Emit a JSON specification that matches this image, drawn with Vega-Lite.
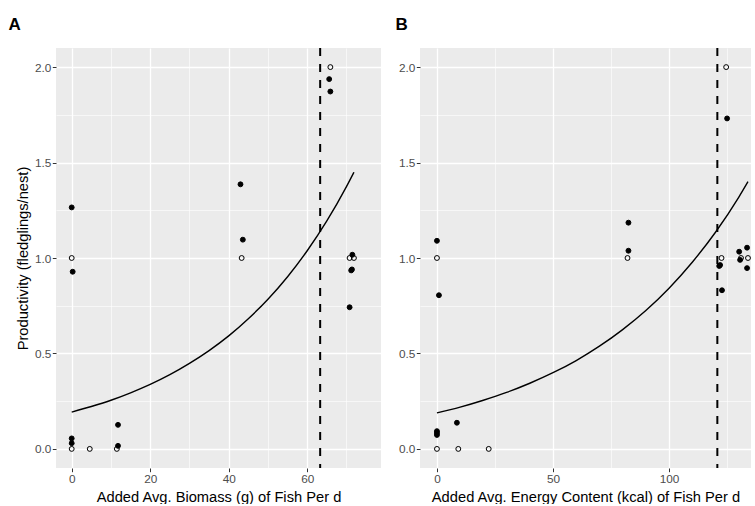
{
  "$schema": "https://vega.github.io/schema/vega-lite/v6.json",
  "padding": {"left": 8, "top": 16, "right": 0, "bottom": 0},
  "background": "white",
  "config": {
    "font": "Liberation Sans",
    "view": {"fill": "#EBEBEB", "stroke": null},
    "axis": {
      "domain": false,
      "gridColor": "white",
      "tickColor": "#333333",
      "tickSize": 3.7,
      "labelColor": "#4D4D4D",
      "labelFontSize": 11.8,
      "labelFont": "Liberation Sans",
      "titleFont": "Liberation Sans",
      "titleFontSize": 14.7,
      "titleFontWeight": "normal",
      "titleColor": "#000000",
      "labelPadding": 1.5,
      "titlePadding": 4
    },
    "title": {"fontSize": 17, "fontWeight": "bold", "anchor": "start", "frame": "bounds", "font": "Liberation Sans", "color": "#000000", "offset": 13}
  },
  "datasets": {
    "pointsA": [
      {"x": 0, "y": 1.0, "type": "open"},
      {"x": 0, "y": 0, "type": "open"},
      {"x": 4.6, "y": 0, "type": "open"},
      {"x": 11.5, "y": 0, "type": "open"},
      {"x": 43.3, "y": 1.0, "type": "open"},
      {"x": 65.9, "y": 2.0, "type": "open"},
      {"x": 70.8, "y": 1.0, "type": "open"},
      {"x": 71.9, "y": 1.0, "type": "open"},
      {"x": 0, "y": 1.265, "type": "filled"},
      {"x": 0.25, "y": 0.928, "type": "filled"},
      {"x": 0, "y": 0.055, "type": "filled"},
      {"x": 0, "y": 0.03, "type": "filled"},
      {"x": 11.8, "y": 0.126, "type": "filled"},
      {"x": 11.8, "y": 0.016, "type": "filled"},
      {"x": 43.0, "y": 1.386, "type": "filled"},
      {"x": 43.6, "y": 1.096, "type": "filled"},
      {"x": 65.6, "y": 1.937, "type": "filled"},
      {"x": 65.9, "y": 1.872, "type": "filled"},
      {"x": 71.5, "y": 1.017, "type": "filled"},
      {"x": 71.4, "y": 0.94, "type": "filled"},
      {"x": 71.2, "y": 0.935, "type": "filled"},
      {"x": 70.8, "y": 0.742, "type": "filled"}
    ],
    "curveA": [
      {"x": 0, "y": 0.193}, {"x": 5, "y": 0.222}, {"x": 10, "y": 0.255},
      {"x": 15, "y": 0.294}, {"x": 20, "y": 0.338}, {"x": 25, "y": 0.389},
      {"x": 30, "y": 0.448}, {"x": 35, "y": 0.515}, {"x": 40, "y": 0.592},
      {"x": 45, "y": 0.682}, {"x": 50, "y": 0.784}, {"x": 55, "y": 0.902},
      {"x": 60, "y": 1.038}, {"x": 65, "y": 1.194}, {"x": 70, "y": 1.374},
      {"x": 71.9, "y": 1.449}
    ],
    "vlineA": [{"x": 63.3}],
    "pointsB": [
      {"x": 0, "y": 1.0, "type": "open"},
      {"x": 0, "y": 0, "type": "open"},
      {"x": 9.2, "y": 0, "type": "open"},
      {"x": 22.3, "y": 0, "type": "open"},
      {"x": 82.1, "y": 1.0, "type": "open"},
      {"x": 124.6, "y": 2.0, "type": "open"},
      {"x": 122.6, "y": 1.0, "type": "open"},
      {"x": 131.0, "y": 1.0, "type": "open"},
      {"x": 134.0, "y": 1.0, "type": "open"},
      {"x": 0, "y": 1.09, "type": "filled"},
      {"x": 0.86, "y": 0.805, "type": "filled"},
      {"x": 0, "y": 0.093, "type": "filled"},
      {"x": 0, "y": 0.083, "type": "filled"},
      {"x": 0, "y": 0.073, "type": "filled"},
      {"x": 8.6, "y": 0.137, "type": "filled"},
      {"x": 82.5, "y": 1.185, "type": "filled"},
      {"x": 82.5, "y": 1.038, "type": "filled"},
      {"x": 125.0, "y": 1.731, "type": "filled"},
      {"x": 122.0, "y": 0.963, "type": "filled"},
      {"x": 121.6, "y": 0.958, "type": "filled"},
      {"x": 122.8, "y": 0.831, "type": "filled"},
      {"x": 130.2, "y": 1.033, "type": "filled"},
      {"x": 130.6, "y": 0.99, "type": "filled"},
      {"x": 133.6, "y": 1.054, "type": "filled"},
      {"x": 133.6, "y": 0.947, "type": "filled"}
    ],
    "curveB": [
      {"x": 0, "y": 0.189}, {"x": 10, "y": 0.219}, {"x": 20, "y": 0.255},
      {"x": 30, "y": 0.296}, {"x": 40, "y": 0.344}, {"x": 50, "y": 0.399},
      {"x": 60, "y": 0.463}, {"x": 70, "y": 0.538}, {"x": 80, "y": 0.625},
      {"x": 90, "y": 0.725}, {"x": 100, "y": 0.842}, {"x": 110, "y": 0.978},
      {"x": 120, "y": 1.135}, {"x": 130, "y": 1.318}, {"x": 134, "y": 1.40}
    ],
    "vlineB": [{"x": 120.8}]
  },
  "spacing": 14,
  "hconcat": [
    {
      "title": {"text": "A", "dx": -7},
      "width": 325,
      "height": 420,
      "encoding": {
        "x": {
          "field": "x", "type": "quantitative",
          "scale": {"domain": [-4, 78.8], "nice": false, "zero": false},
          "axis": {
            "title": "Added Avg. Biomass (g) of Fish Per d",
            "values": [0, 10, 20, 30, 40, 50, 60, 70],
            "labelExpr": "datum.value % 20 === 0 ? datum.label : ''",
            "tickOpacity": {"condition": {"test": "datum.value % 20 !== 0", "value": 0}, "value": 1},
            "gridWidth": {"condition": {"test": "datum.value % 20 !== 0", "value": 0.6}, "value": 1.3}
          }
        },
        "y": {
          "field": "y", "type": "quantitative",
          "scale": {"domain": [-0.1, 2.1], "nice": false, "zero": false},
          "axis": {
            "title": "Productivity (fledglings/nest)",
            "values": [0, 0.25, 0.5, 0.75, 1, 1.25, 1.5, 1.75, 2],
            "labelExpr": "(datum.value * 4) % 2 === 0 ? format(datum.value, '.1f') : ''",
            "tickOpacity": {"condition": {"test": "(datum.value * 4) % 2 !== 0", "value": 0}, "value": 1},
            "gridWidth": {"condition": {"test": "(datum.value * 4) % 2 !== 0", "value": 0.6}, "value": 1.3}
          }
        }
      },
      "layer": [
        {
          "data": {"name": "pointsA"},
          "mark": {"type": "point", "size": 24, "strokeWidth": 1, "opacity": 1},
          "encoding": {
            "fill": {"field": "type", "type": "nominal", "scale": {"domain": ["filled", "open"], "range": ["#000000", "transparent"]}, "legend": null},
            "stroke": {"value": "#000000"}
          }
        },
        {
          "data": {"name": "curveA"},
          "mark": {"type": "line", "color": "#000000", "strokeWidth": 1.4, "interpolate": "monotone"},
          "encoding": {}
        },
        {
          "data": {"name": "vlineA"},
          "mark": {"type": "rule", "color": "#000000", "strokeWidth": 2, "strokeDash": [8, 8]},
          "encoding": {"y": null}
        }
      ]
    },
    {
      "title": {"text": "B", "dx": -3},
      "width": 331,
      "height": 420,
      "encoding": {
        "x": {
          "field": "x", "type": "quantitative",
          "scale": {"domain": [-7.3, 135.3], "nice": false, "zero": false},
          "axis": {
            "title": "Added Avg. Energy Content (kcal) of Fish Per d",
            "values": [0, 25, 50, 75, 100, 125],
            "labelExpr": "datum.value % 50 === 0 ? datum.label : ''",
            "tickOpacity": {"condition": {"test": "datum.value % 50 !== 0", "value": 0}, "value": 1},
            "gridWidth": {"condition": {"test": "datum.value % 50 !== 0", "value": 0.6}, "value": 1.3}
          }
        },
        "y": {
          "field": "y", "type": "quantitative",
          "scale": {"domain": [-0.1, 2.1], "nice": false, "zero": false},
          "axis": {
            "title": null,
            "values": [0, 0.25, 0.5, 0.75, 1, 1.25, 1.5, 1.75, 2],
            "labelExpr": "(datum.value * 4) % 2 === 0 ? format(datum.value, '.1f') : ''",
            "tickOpacity": {"condition": {"test": "(datum.value * 4) % 2 !== 0", "value": 0}, "value": 1},
            "gridWidth": {"condition": {"test": "(datum.value * 4) % 2 !== 0", "value": 0.6}, "value": 1.3}
          }
        }
      },
      "layer": [
        {
          "data": {"name": "pointsB"},
          "mark": {"type": "point", "size": 24, "strokeWidth": 1, "opacity": 1},
          "encoding": {
            "fill": {"field": "type", "type": "nominal", "scale": {"domain": ["filled", "open"], "range": ["#000000", "transparent"]}, "legend": null},
            "stroke": {"value": "#000000"}
          }
        },
        {
          "data": {"name": "curveB"},
          "mark": {"type": "line", "color": "#000000", "strokeWidth": 1.4, "interpolate": "monotone"},
          "encoding": {}
        },
        {
          "data": {"name": "vlineB"},
          "mark": {"type": "rule", "color": "#000000", "strokeWidth": 2, "strokeDash": [8, 8]},
          "encoding": {"y": null}
        }
      ]
    }
  ]
}
